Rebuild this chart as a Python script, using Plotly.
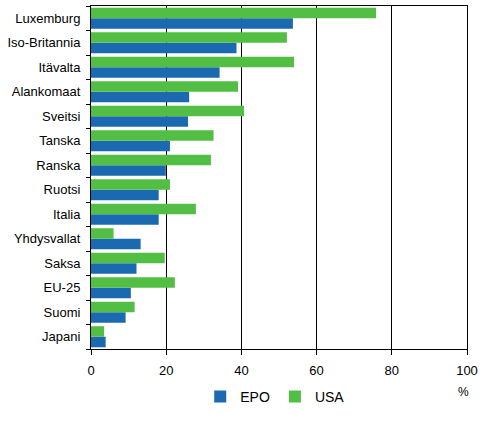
import plotly.graph_objects as go

countries = ["Luxemburg", "Iso-Britannia", "Itävalta", "Alankomaat", "Sveitsi", "Tanska",
             "Ranska", "Ruotsi", "Italia", "Yhdysvallat", "Saksa", "EU-25", "Suomi", "Japani"]
epo = [53.7, 38.7, 34.2, 26.1, 25.8, 21.0, 19.9, 18.0, 18.0, 13.2, 12.1, 10.6, 9.2, 3.9]
usa = [75.8, 52.1, 54.0, 39.1, 40.7, 32.6, 31.9, 21.0, 27.9, 6.0, 19.6, 22.3, 11.6, 3.5]
x_ticks = [0, 20, 40, 60, 80, 100]

cats = countries[::-1]
fig = go.Figure()
fig.add_trace(go.Bar(y=cats, x=epo[::-1], name="EPO", orientation="h",
                     marker=dict(color="#1a69b1", line=dict(width=0))))
fig.add_trace(go.Bar(y=cats, x=usa[::-1], name="USA", orientation="h",
                     marker=dict(color="#52bf44", line=dict(width=0))))

fig.update_layout(
    width=496, height=446,
    margin=dict(l=91, r=29, t=6, b=97, autoexpand=False),
    barmode="group", bargap=0.14, bargroupgap=0,
    plot_bgcolor="white", paper_bgcolor="white",
    font=dict(family="Liberation Sans, Arial, sans-serif", size=12, color="black"),
    showlegend=True,
    legend=dict(orientation="h", x=0.49, xanchor="center", y=-0.14, yanchor="middle",
                font=dict(size=14), traceorder="normal", itemwidth=30),
    xaxis=dict(range=[0, 100], tickvals=x_ticks, showgrid=True, gridcolor="black", gridwidth=1,
               showline=True, linecolor="black", linewidth=1, mirror=True,
               ticks="outside", ticklen=5, tickcolor="black", zeroline=False,
               tickfont=dict(size=13), automargin=False, ticklabelstandoff=4),
    yaxis=dict(type="category", categoryorder="array", categoryarray=cats,
               showline=True, linecolor="black", linewidth=1, mirror=True,
               ticks="outside", ticklen=4, tickcolor="black", tickson="boundaries",
               showgrid=False, tickfont=dict(size=13), automargin=False, ticklabelstandoff=7),
    annotations=[dict(text="%", x=0.992, y=-0.125, xref="paper", yref="paper",
                      showarrow=False, xanchor="center", yanchor="middle", font=dict(size=12))],
)
fig.write_html("out.html", config={"displayModeBar": False},
               post_script="document.body.style.margin='0';document.body.style.padding='0';")
